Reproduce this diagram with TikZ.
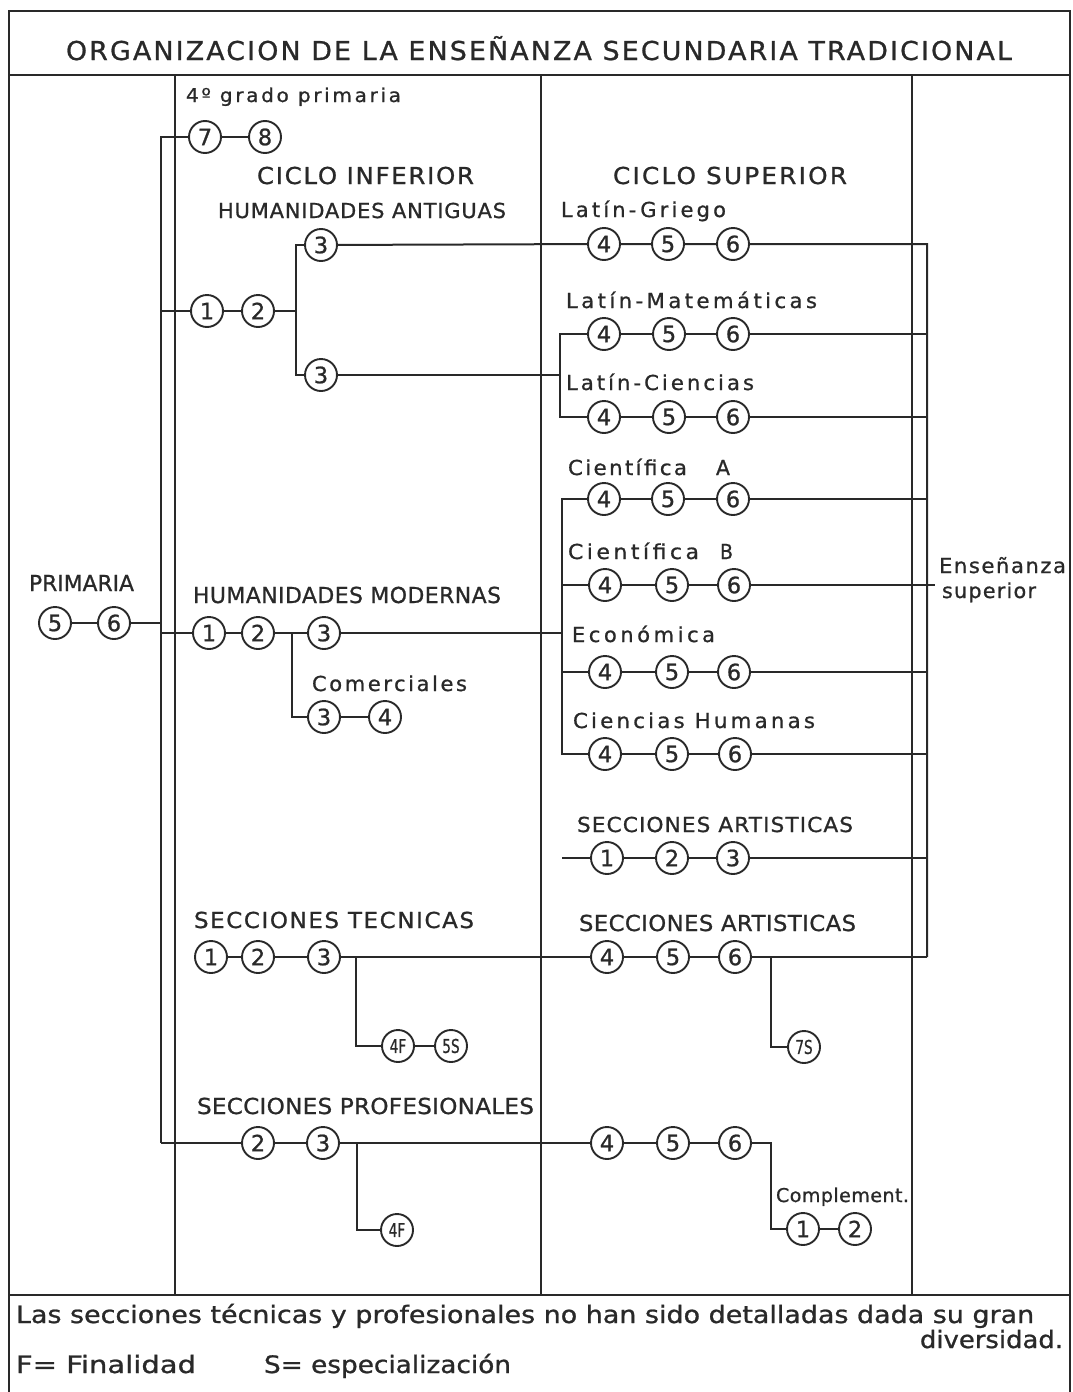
\documentclass[tikz,border=0pt]{standalone}
\usepackage{fontspec}
\usepackage{graphicx}
\setmainfont{DejaVu Sans}
\definecolor{ink}{gray}{0.16}

% label: target width (pt), font size (pt), letter spacing, text
\newcommand\lbl[4]{\resizebox{#1pt}{\height}{\fontsize{#2pt}{#2pt}\selectfont\addfontfeature{LetterSpace=#3,FakeBold=0.9}#4}}
\newcommand\numfont[1]{\fontsize{#1}{#1}\selectfont\addfontfeature{FakeBold=0.9}}

\begin{document}
\begin{tikzpicture}[x=1pt,y=-1pt,color=ink,line width=2pt,
  yr/.style={circle,draw,minimum size=32pt,inner sep=0pt,line width=1.9pt,font=\numfont{22.5}},
  sm/.style={yr,font=\numfont{19}},
  lab/.style={inner sep=0pt,anchor=base west},
  frame/.style={line width=2.4pt}]
\useasboundingbox (0,0) rectangle (1073,1392);

% frame, title row, footer row and columns
\draw[frame] (9,1392) -- (9,11) -- (1070,11) -- (1070,1392);
\draw[frame] (9,75) -- (1070,75);
\draw[frame] (9,1295) -- (1070,1295);
\draw (175,75) -- (175,1295);
\draw (541,75) -- (541,1295);
\draw (912,75) -- (912,1295);

% texts
\node[lab] (tTitle) at (65,60) {\lbl{946}{26}{8}{ORGANIZACION DE LA ENSEÑANZA SECUNDARIA TRADICIONAL}};
\node[lab] (tGrado) at (185,102) {\lbl{215}{19}{13}{4º grado primaria}};
\node[lab] (tCI) at (256,184) {\lbl{217}{23.3}{7}{CICLO INFERIOR}};
\node[lab] (tCS) at (612,184) {\lbl{234}{23.3}{9}{CICLO SUPERIOR}};
\node[lab] (tHA) at (217,218) {\lbl{288}{20.6}{4}{HUMANIDADES ANTIGUAS}};
\node[lab] (tLG) at (560,217) {\lbl{165}{20.6}{15}{Latín-Griego}};
\node[lab] (tLM) at (565,308) {\lbl{251}{20.6}{16}{Latín-Matemáticas}};
\node[lab] (tLC) at (565,390) {\lbl{188}{20.6}{14}{Latín-Ciencias}};
\node[lab] (tCA) at (567,475) {\lbl{119}{20.6}{11}{Científica}};
\node[lab] (tCAa) at (715,475) {\lbl{14}{20.6}{0}{A}};
\node[lab] (tCB) at (567,559) {\lbl{131}{20.6}{16}{Científica}};
\node[lab] (tCBb) at (719,559) {\lbl{13}{20.6}{0}{B}};
\node[lab] (tEns) at (938,573) {\lbl{127}{20.6}{7}{Enseñanza}};
\node[lab] (tSup) at (941,598) {\lbl{94}{20.6}{6}{superior}};
\node[lab] (tPri) at (28,591) {\lbl{105}{22}{0}{PRIMARIA}};
\node[lab] (tHM) at (192,603) {\lbl{308}{22}{2}{HUMANIDADES MODERNAS}};
\node[lab] (tEco) at (571,642) {\lbl{143}{20.6}{17}{Económica}};
\node[lab] (tCom) at (311,691) {\lbl{155}{20.6}{12}{Comerciales}};
\node[lab] (tCH) at (572,728) {\lbl{242}{20.6}{15}{Ciencias Humanas}};
\node[lab] (tSA1) at (576,832) {\lbl{276}{20.6}{5}{SECCIONES ARTISTICAS}};
\node[lab] (tST) at (193,928) {\lbl{280}{22}{7}{SECCIONES TECNICAS}};
\node[lab] (tSA2) at (578,931) {\lbl{277}{22}{2}{SECCIONES ARTISTICAS}};
\node[lab] (tSP) at (196,1114) {\lbl{337}{22}{1}{SECCIONES PROFESIONALES}};
\node[lab] (tComp) at (775,1202) {\lbl{133}{19}{2}{Complement.}};
\node[lab] (tF1) at (15,1323) {\lbl{1018}{24}{0}{Las secciones técnicas y profesionales no han sido detalladas dada su gran}};
\node[lab,anchor=base east] (tF2) at (1064,1348) {\lbl{143}{24}{0}{diversidad.}};
\node[lab] (tF3) at (15,1373) {\lbl{180}{24}{0}{F= Finalidad}};
\node[lab] (tF4) at (263,1373) {\lbl{247}{24}{0}{S= especialización}};

% school years
\node[yr] (g7) at (205,137) {7};
\node[yr] (g8) at (265,137) {8};
\node[yr] (p5) at (55,623) {5};
\node[yr] (p6) at (114,623) {6};
\node[yr] (ha1) at (207,311) {1};
\node[yr] (ha2) at (258,311) {2};
\node[yr] (ha3a) at (321,245) {3};
\node[yr] (ha3b) at (321,375) {3};
\node[yr] (lg4) at (604,244) {4};
\node[yr] (lg5) at (668,244) {5};
\node[yr] (lg6) at (733,244) {6};
\node[yr] (lm4) at (604,334) {4};
\node[yr] (lm5) at (669,334) {5};
\node[yr] (lm6) at (733,334) {6};
\node[yr] (lc4) at (604,417) {4};
\node[yr] (lc5) at (669,417) {5};
\node[yr] (lc6) at (733,417) {6};
\node[yr] (ca4) at (604,499) {4};
\node[yr] (ca5) at (668,499) {5};
\node[yr] (ca6) at (733,499) {6};
\node[yr] (cb4) at (605,585) {4};
\node[yr] (cb5) at (672,585) {5};
\node[yr] (cb6) at (734,585) {6};
\node[yr] (ec4) at (605,672) {4};
\node[yr] (ec5) at (672,672) {5};
\node[yr] (ec6) at (734,672) {6};
\node[yr] (ch4) at (605,754) {4};
\node[yr] (ch5) at (672,754) {5};
\node[yr] (ch6) at (735,754) {6};
\node[yr] (hm1) at (209,633) {1};
\node[yr] (hm2) at (258,633) {2};
\node[yr] (hm3) at (324,633) {3};
\node[yr] (co3) at (324,717) {3};
\node[yr] (co4) at (385,717) {4};
\node[yr] (sx1) at (607,858) {1};
\node[yr] (sx2) at (672,858) {2};
\node[yr] (sx3) at (733,858) {3};
\node[yr] (te1) at (211,957) {1};
\node[yr] (te2) at (258,957) {2};
\node[yr] (te3) at (324,957) {3};
\node[yr] (sa4) at (607,957) {4};
\node[yr] (sa5) at (673,957) {5};
\node[yr] (sa6) at (735,957) {6};
\node[sm] (t4f) at (398,1046) {\scalebox{0.72}[1]{4F}};
\node[sm] (t5s) at (451,1046) {\scalebox{0.72}[1]{5S}};
\node[sm] (s7s) at (804,1047) {\scalebox{0.72}[1]{7S}};
\node[yr] (pr2) at (258,1143) {2};
\node[yr] (pr3) at (323,1143) {3};
\node[yr] (pf4) at (607,1143) {4};
\node[yr] (pf5) at (673,1143) {5};
\node[yr] (pf6) at (735,1143) {6};
\node[sm] (p4f) at (397,1230) {\scalebox{0.72}[1]{4F}};
\node[yr] (cm1) at (803,1229) {1};
\node[yr] (cm2) at (855,1229) {2};

% junction lines
\coordinate (tTop) at (161,137);
\coordinate (tBot) at (161,1143);
\coordinate (haJ) at (296,0);
\coordinate (hmJ) at (292,0);
\coordinate (lJ) at (560,0);
\coordinate (cJ) at (562,0);
\coordinate (rT) at (927,0);
\coordinate (teJ) at (356,0);
\coordinate (prJ) at (357,0);
\coordinate (saJ) at (771,0);
\coordinate (cmJ) at (771,0);
\coordinate (cbEnd) at (935,585);
\coordinate (saStart) at (562,858);

% connectors
\draw (tBot) -- (tTop) -- (g7);
\draw (g7) -- (g8);
\draw (p5) -- (p6) -- (p6 -| tTop);
\draw (tTop |- ha1) -- (ha1) -- (ha2) -- (ha2 -| haJ);
\draw (ha3a) -| (haJ |- ha3b) -- (ha3b);
\draw (ha3a) -- (lg4) -- (lg5) -- (lg6) -- (lg6 -| rT) -- (sa6 -| rT);
\draw (ha3b) -- (ha3b -| lJ);
\draw (lm4) -| (lJ |- lc4) -- (lc4);
\draw (lm4) -- (lm5) -- (lm6) -- (lm6 -| rT);
\draw (lc4) -- (lc5) -- (lc6) -- (lc6 -| rT);
\draw (tTop |- hm1) -- (hm1) -- (hm2) -- (hm3) -- (hm3 -| cJ);
\draw (hmJ |- hm2) |- (co3);
\draw (co3) -- (co4);
\draw (ca4) -| (cJ |- ch4) -- (ch4);
\draw (cb4 -| cJ) -- (cb4);
\draw (ec4 -| cJ) -- (ec4);
\draw (ca4) -- (ca5) -- (ca6) -- (ca6 -| rT);
\draw (cb4) -- (cb5) -- (cb6) -- (cbEnd);
\draw (ec4) -- (ec5) -- (ec6) -- (ec6 -| rT);
\draw (ch4) -- (ch5) -- (ch6) -- (ch6 -| rT);
\draw (saStart) -- (sx1) -- (sx2) -- (sx3) -- (sx3 -| rT);
\draw (te1) -- (te2) -- (te3) -- (sa4) -- (sa5) -- (sa6) -- (sa6 -| rT);
\draw (teJ |- te3) |- (t4f);
\draw (t4f) -- (t5s);
\draw (saJ |- sa6) |- (s7s);
\draw (tBot) -- (pr2) -- (pr3) -- (pf4) -- (pf5) -- (pf6);
\draw (prJ |- pr3) |- (p4f);
\draw (pf6) -| (cmJ |- cm1) -- (cm1);
\draw (cm1) -- (cm2);
\end{tikzpicture}
\end{document}
